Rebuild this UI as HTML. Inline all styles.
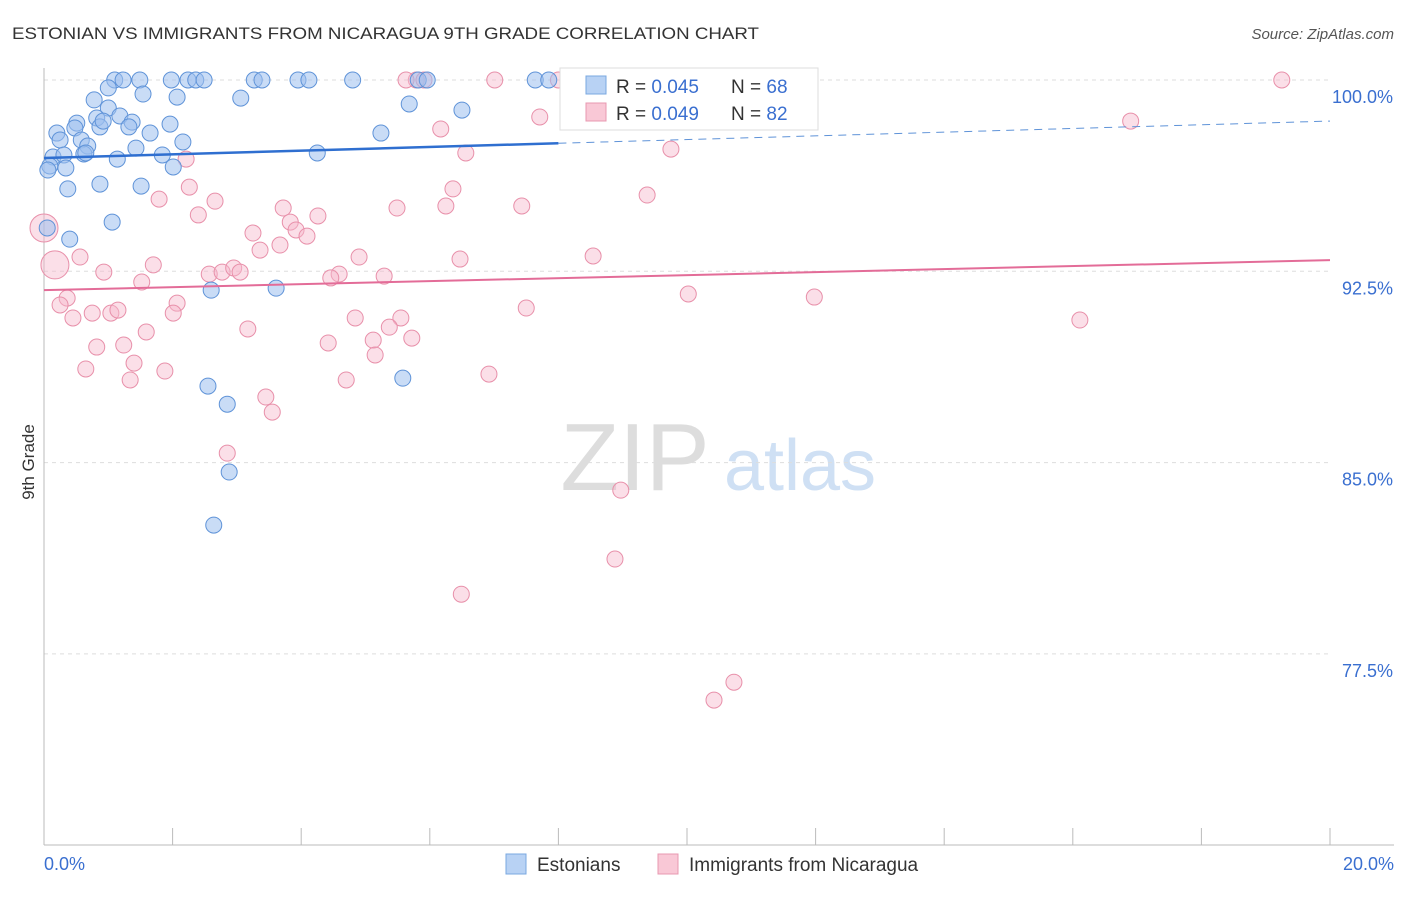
<!DOCTYPE html>
<html><head><meta charset="utf-8"><style>
body{margin:0;background:#fff;font-family:"Liberation Sans",sans-serif;}
svg text{font-family:"Liberation Sans",sans-serif;}
</style></head><body>
<svg id="chart" width="1406" height="892">
<text x="12" y="39" font-size="17" fill="#333" textLength="747" lengthAdjust="spacingAndGlyphs">ESTONIAN VS IMMIGRANTS FROM NICARAGUA 9TH GRADE CORRELATION CHART</text>
<text x="1394" y="39" font-size="15" fill="#555" text-anchor="end" font-style="italic">Source: ZipAtlas.com</text>
<text x="34" y="462" font-size="17" fill="#333" transform="rotate(-90 34 462)" text-anchor="middle">9th Grade</text>
<g>
<text x="635" y="490" font-size="96" fill="#ddd" font-family="Liberation Serif" text-anchor="middle">ZIP</text>
<text x="800" y="490" font-size="72" fill="#cfe0f4" text-anchor="middle">atlas</text>
</g>
<g id="grid"></g><g id="axes"></g><g id="pts"></g><g id="trend"></g>
<g>
<rect x="560" y="68" width="258" height="62" fill="#fff" stroke="#ddd"/>
<rect x="586" y="76" width="20" height="18" fill="#b8d2f4" stroke="#7aa8e0"/>
<text x="616" y="93" font-size="19" fill="#333">R = <tspan fill="#3a6fd0">0.045</tspan></text>
<text x="731" y="93" font-size="19" fill="#333">N = <tspan fill="#3a6fd0">68</tspan></text>
<rect x="586" y="103" width="20" height="18" fill="#f9c8d6" stroke="#e898b0"/>
<text x="616" y="120" font-size="19" fill="#333">R = <tspan fill="#3a6fd0">0.049</tspan></text>
<text x="731" y="120" font-size="19" fill="#333">N = <tspan fill="#3a6fd0">82</tspan></text>
</g>
<g>
<rect x="506" y="854" width="20" height="20" fill="#b8d2f4" stroke="#7aa8e0"/>
<text x="537" y="871" font-size="19" fill="#333">Estonians</text>
<rect x="658" y="854" width="20" height="20" fill="#f9c8d6" stroke="#e898b0"/>
<text x="689" y="871" font-size="19" fill="#333">Immigrants from Nicaragua</text>
</g>
</svg>
<script>
const xTicks=[0,20];
const yTicks=[100,92.5,85,77.5];
const blueX=[1.10,1.23,1.49,1.98,2.24,2.36,2.49,3.27,3.39,3.95,4.12,4.80,5.82,5.96,7.64,7.85,1.54,2.07,3.06,0.78,1.00,1.00,5.68,6.50,0.51,0.82,1.18,1.37,1.96,0.20,0.48,0.87,1.32,1.65,5.24,0.25,0.58,0.68,2.16,1.43,1.84,0.14,0.31,0.62,1.14,4.25,2.01,0.09,0.34,0.87,1.51,0.37,1.06,0.05,0.40,2.60,3.61,5.58,2.55,2.85,2.88,2.64,0.06,0.65,0.92];
const blueY=[100,100,100,100,100,100,100,100,100,100,100,100,100,100,100,100,99.45,99.33,99.29,99.22,99.69,98.9,99.06,98.82,98.31,98.51,98.59,98.35,98.27,97.92,98.12,98.16,98.16,97.92,97.92,97.65,97.65,97.41,97.57,97.33,97.06,96.98,97.06,97.1,96.9,97.14,96.59,96.63,96.55,95.92,95.84,95.73,94.43,94.2,93.76,91.76,91.84,88.31,88.0,87.29,84.63,82.55,96.47,97.14,98.39];
const pinkX=[0,0.17,5.79,5.91,7.01,8.0,5.63,19.25,7.71,16.9,6.17,9.75,6.56,2.21,9.38,6.36,2.26,1.79,2.66,3.72,4.26,5.49,6.25,7.43,2.40,3.83,3.92,4.09,3.25,3.67,3.36,4.90,6.47,8.54,0.56,1.70,0.93,2.57,2.77,2.95,4.59,5.29,4.46,1.52,0.36,2.07,0.25,1.04,1.15,2.01,0.45,0.75,7.50,10.02,11.98,4.84,5.55,5.37,16.11,3.17,1.59,5.12,5.72,4.42,0.82,1.24,5.15,1.40,0.65,1.88,6.92,1.34,4.70,3.45,3.55,2.85,8.97,8.88,6.49,10.73,10.42,3.05];
const pinkY=[94.2,92.75,100,100,100,100,100,100,98.55,98.39,98.08,97.29,97.14,96.9,95.49,95.73,95.8,95.33,95.25,94.98,94.67,94.98,95.06,95.06,94.71,94.43,94.12,93.88,94.0,93.53,93.33,93.06,92.98,93.1,93.06,92.75,92.47,92.39,92.47,92.63,92.39,92.31,92.24,92.08,91.45,91.25,91.18,90.86,90.98,90.86,90.67,90.86,91.06,91.61,91.49,90.67,90.67,90.31,90.59,90.24,90.12,89.8,89.88,89.69,89.53,89.61,89.22,88.9,88.67,88.59,88.47,88.24,88.24,87.57,86.98,85.37,83.92,81.22,79.84,76.39,75.69,92.47];
const blueTrend=[96.94,98.39];
const pinkTrend=[91.76,92.94];
const NS="http://www.w3.org/2000/svg";
const X=v=>44+v/20*1286, Y=v=>80+(100-v)/7.5*191.3;
function mk(t,a,p){const e=document.createElementNS(NS,t);for(const k in a)e.setAttribute(k,a[k]);p.appendChild(e);return e;}
const grid=document.getElementById('grid'),axes=document.getElementById('axes');
yTicks.forEach(v=>{
 const l=mk('line',{x1:44,x2:1330,y1:Y(v),y2:Y(v),stroke:'#ddd','stroke-dasharray':'4,4'},grid);
 
 
 const t=mk('text',{x:1393,y:Y(v)+23,'font-size':18,fill:'#3a6fd0','text-anchor':'end'},axes);t.textContent=v.toFixed(1)+'%';
 
 
});
mk('line',{x1:44,x2:44,y1:68,y2:845,stroke:'#bbb'},axes);
mk('line',{x1:44,x2:1394,y1:845,y2:845,stroke:'#bbb'},axes);
for(let i=0;i<=10;i++){mk('line',{x1:X(i*2),x2:X(i*2),y1:828,y2:845,stroke:'#bbb'},axes);}
xTicks.forEach((v,i)=>{const t=mk('text',{x:i?1394:44,y:870,'font-size':18,fill:'#3a6fd0','text-anchor':i?'end':'start'},axes);t.textContent=v.toFixed(1)+'%';
 
 });
const pts=document.getElementById('pts');
pinkX.forEach((x,i)=>{const c=mk('circle',{cx:X(x),cy:Y(pinkY[i]),r:i<2?14:8,fill:'#f7b8cb','fill-opacity':0.45,stroke:'#e890aa','stroke-width':1},pts);
 
 });
blueX.forEach((x,i)=>{const c=mk('circle',{cx:X(x),cy:Y(blueY[i]),r:8,fill:'#9cc0ee','fill-opacity':0.55,stroke:'#5f93d8','stroke-width':1},pts);
 
 });
const tr=document.getElementById('trend');
const bm=blueTrend[0]+(blueTrend[1]-blueTrend[0])*0.4;
let l=mk('line',{x1:X(0),y1:Y(blueTrend[0]),x2:X(8),y2:Y(bm),stroke:'#2f6fd0','stroke-width':2.5},tr);


l=mk('line',{x1:X(8),y1:Y(bm),x2:X(20),y2:Y(blueTrend[1]),stroke:'#5f93d8','stroke-width':1,'stroke-dasharray':'8,6'},tr);


l=mk('line',{x1:X(0),y1:Y(pinkTrend[0]),x2:X(20),y2:Y(pinkTrend[1]),stroke:'#e36c98','stroke-width':2},tr);


</script>
</body></html>
